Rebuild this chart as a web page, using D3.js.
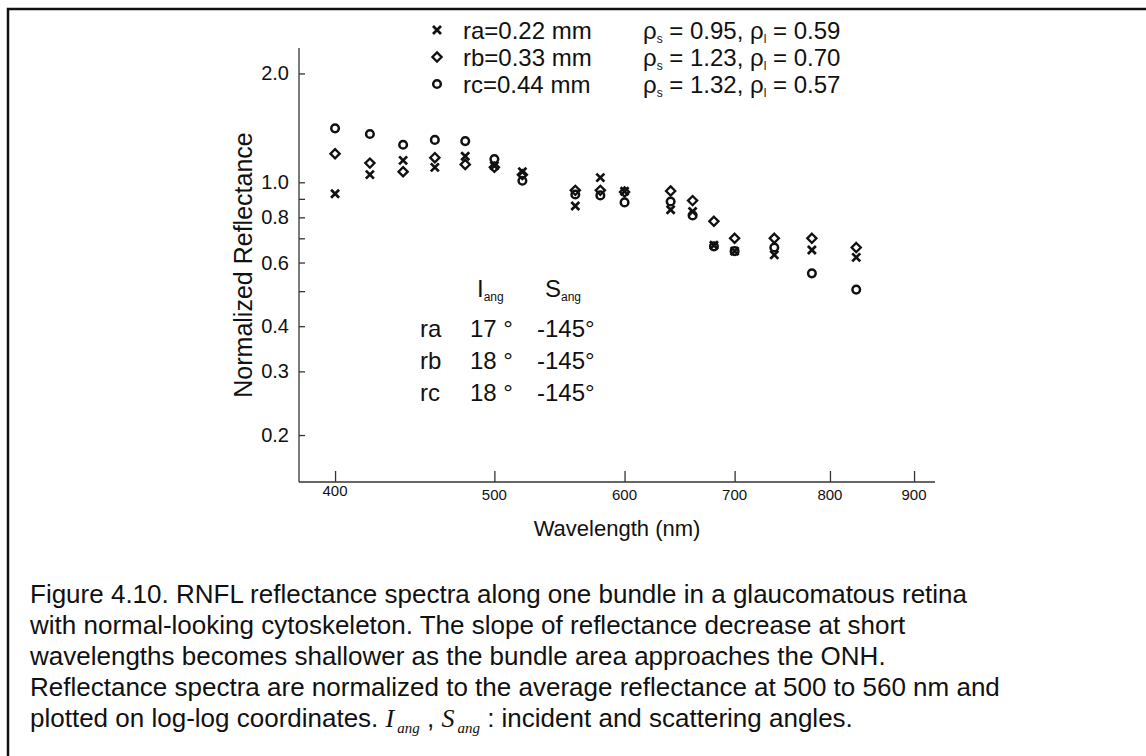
<!DOCTYPE html>
<html>
<head>
<meta charset="utf-8">
<script src="https://cdn.jsdelivr.net/npm/d3@7/dist/d3.min.js"></script>
<style>
  body { margin: 0; background: #fff; }
  svg { display: block; }
  text { fill: #111; font-family: "Liberation Sans", Arial, sans-serif; }
  .narrow { font-family: "Liberation Sans Narrow", "Arial Narrow", "Liberation Sans", sans-serif; }
</style>
</head>
<body>
<svg id="main_svg" width="1146" height="756"></svg>
<script>
// wavelengths (nm)
const wavelengths = [400, 420, 440, 460, 480, 500, 520, 560, 580, 600, 640, 660, 680, 700, 740, 780, 830];
// normalized reflectance per bundle area
const ra = [0.93, 1.05, 1.15, 1.10, 1.18, 1.11, 1.07, 0.86, 1.03, 0.945, 0.84, 0.83, 0.67, 0.645, 0.63, 0.65, 0.62];
const rb = [1.20, 1.13, 1.07, 1.17, 1.12, 1.10, 1.05, 0.95, 0.95, 0.94, 0.946, 0.89, 0.78, 0.70, 0.70, 0.70, 0.66];
const rc = [1.41, 1.36, 1.27, 1.31, 1.30, 1.16, 1.01, 0.925, 0.92, 0.88, 0.885, 0.81, 0.665, 0.645, 0.66, 0.56, 0.505];

const xTicks = [400, 500, 600, 700, 800, 900];
const yTicks = [0.2, 0.3, 0.4, 0.6, 0.8, 1.0, 2.0];
const yMinor = [0.5, 0.7, 0.9];

const legendNames = ['ra=0.22 mm', 'rb=0.33 mm', 'rc=0.44 mm'];
const rhoS = ['0.95', '1.23', '1.32'];
const rhoL = ['0.59', '0.70', '0.57'];
const angNames = ['ra', 'rb', 'rc'];
const incAngles = ['17 °', '18 °', '18 °'];
const scatAngles = ['-145°', '-145°', '-145°'];

const captionLines = [
  'Figure 4.10. RNFL reflectance spectra along one bundle in a glaucomatous retina',
  'with normal-looking cytoskeleton. The slope of reflectance decrease at short',
  'wavelengths becomes shallower as the bundle area approaches the ONH.',
  'Reflectance spectra are normalized to the average reflectance at 500 to 560 nm and'
];

const svg = d3.select('#main_svg');

// frame (left and top rule)
svg.append('path')
  .attr('d', 'M8,756 L8,9 L1146,9')
  .attr('fill', 'none')
  .attr('stroke', '#111')
  .attr('stroke-width', 2.5);

const plot = { left: 299, right: 935, top: 48, bottom: 482 };

const x = d3.scaleLog()
  .domain([380.3, 926.8])
  .range([plot.left, plot.right]);

const y = d3.scaleLog()
  .domain([0.1483, 2.352])
  .range([plot.bottom, plot.top]);

// y axis
const yAxis = svg.append('g')
  .attr('transform', 'translate(' + plot.left + ',0)')
  .call(d3.axisRight(y).tickValues(yTicks).tickSize(6).tickFormat(''));
yAxis.select('.domain').attr('d', 'M0,' + plot.top + 'V' + plot.bottom);
yAxis.selectAll('line, path').attr('stroke', '#333').attr('stroke-width', 1.3);

svg.append('g')
  .attr('transform', 'translate(' + plot.left + ',0)')
  .call(d3.axisRight(y).tickValues(yMinor).tickSize(6).tickFormat(''))
  .call(g => g.select('.domain').remove())
  .selectAll('line').attr('stroke', '#333').attr('stroke-width', 1.3);

svg.append('g').selectAll('text')
  .data(yTicks)
  .join('text')
  .attr('class', 'narrow')
  .attr('x', plot.left - 10)
  .attr('y', d => y(d))
  .attr('dy', '0.35em')
  .attr('text-anchor', 'end')
  .style('font-size', '20px')
  .text(d => d.toFixed(1));

// x axis
const xAxis = svg.append('g')
  .attr('transform', 'translate(0,' + plot.bottom + ')')
  .call(d3.axisTop(x).tickValues(xTicks).tickSize(11).tickFormat(''));
xAxis.select('.domain').attr('d', 'M' + plot.left + ',0H' + plot.right);
xAxis.selectAll('line, path').attr('stroke', '#333').attr('stroke-width', 1.3);

svg.append('g').selectAll('text')
  .data(xTicks)
  .join('text')
  .attr('class', 'narrow')
  .attr('x', d => x(d))
  .attr('y', d => plot.bottom + (d === 400 ? 14 : 18))
  .attr('text-anchor', 'middle')
  .style('font-size', '15px')
  .text(d => d);

// axis titles
svg.append('text')
  .attr('transform', 'translate(252,265) rotate(-90)')
  .attr('text-anchor', 'middle')
  .style('font-size', '25px')
  .text('Normalized Reflectance');

svg.append('text')
  .attr('x', (plot.left + plot.right) / 2)
  .attr('y', 536)
  .attr('text-anchor', 'middle')
  .style('font-size', '22px')
  .text('Wavelength (nm)');

// markers
function drawCross(g, cx, cy) {
  const s = 4;
  g.append('path')
    .attr('d', 'M' + (cx - s) + ',' + (cy - s) + 'L' + (cx + s) + ',' + (cy + s) +
               'M' + (cx - s) + ',' + (cy + s) + 'L' + (cx + s) + ',' + (cy - s))
    .attr('stroke', '#111').attr('stroke-width', 2.7).attr('fill', 'none');
}
function drawDiamond(g, cx, cy) {
  const s = 4.6;
  g.append('path')
    .attr('d', 'M' + cx + ',' + (cy - s) + 'L' + (cx + s) + ',' + cy + 'L' + cx + ',' + (cy + s) +
               'L' + (cx - s) + ',' + cy + 'Z')
    .attr('stroke', '#111').attr('stroke-width', 2.3).attr('fill', 'none');
}
function drawCircle(g, cx, cy) {
  g.append('circle')
    .attr('cx', cx).attr('cy', cy).attr('r', 3.8)
    .attr('stroke', '#111').attr('stroke-width', 2.5).attr('fill', 'none');
}

const series = [
  { values: ra, draw: drawCross },
  { values: rb, draw: drawDiamond },
  { values: rc, draw: drawCircle }
];

const marks = svg.append('g');
series.forEach(s => {
  s.values.forEach((v, i) => s.draw(marks, x(wavelengths[i]), y(v)));
});

// legend
const legend = svg.append('g');
series.forEach((s, i) => {
  const cy = 30 + i * 27;
  s.draw(legend, 437, cy);
  legend.append('text')
    .attr('x', 463).attr('y', cy + 9)
    .style('font-size', '24px')
    .text(legendNames[i]);
  const t = legend.append('text')
    .attr('x', 643).attr('y', cy + 9)
    .style('font-size', '24px');
  t.append('tspan').text('ρ');
  t.append('tspan').attr('dy', 4).style('font-size', '12px').text('s');
  t.append('tspan').attr('dy', -4).text(' = ' + rhoS[i] + ', ρ');
  t.append('tspan').attr('dy', 4).style('font-size', '12px').text('l');
  t.append('tspan').attr('dy', -4).text(' = ' + rhoL[i]);
});

// angle table
const table = svg.append('g');
const hdrI = table.append('text').attr('x', 477).attr('y', 297).style('font-size', '24px');
hdrI.append('tspan').text('I');
hdrI.append('tspan').attr('dy', 4).style('font-size', '12px').text('ang');
const hdrS = table.append('text').attr('x', 545).attr('y', 297).style('font-size', '24px');
hdrS.append('tspan').text('S');
hdrS.append('tspan').attr('dy', 4).style('font-size', '12px').text('ang');

angNames.forEach((n, i) => {
  const by = 337 + i * 32;
  table.append('text').attr('x', 420).attr('y', by).style('font-size', '24px').text(n);
  table.append('text').attr('x', 470).attr('y', by).style('font-size', '24px').text(incAngles[i]);
  table.append('text').attr('x', 537).attr('y', by).style('font-size', '24px').text(scatAngles[i]);
});

// caption
const capY = 603, capStep = 31;
const cap = svg.append('g');
captionLines.forEach((line, i) => {
  cap.append('text')
    .attr('x', 30).attr('y', capY + i * capStep)
    .style('font-size', '26px')
    .text(line);
});
const serif = '"Liberation Serif", "Times New Roman", serif';
const last = cap.append('text')
  .attr('x', 30).attr('y', capY + 4 * capStep)
  .style('font-size', '26px');
last.append('tspan').text('plotted on log-log coordinates. ');
last.append('tspan').style('font-family', serif).style('font-style', 'italic').text('I');
last.append('tspan').attr('dx', 3).attr('dy', 6).style('font-family', serif).style('font-style', 'italic').style('font-size', '15px').text('ang');
last.append('tspan').attr('dy', -6).text(' , ');
last.append('tspan').style('font-family', serif).style('font-style', 'italic').text('S');
last.append('tspan').attr('dx', 3).attr('dy', 6).style('font-family', serif).style('font-style', 'italic').style('font-size', '15px').text('ang');
last.append('tspan').attr('dy', -6).text(' : incident and scattering angles.');
</script>
</body>
</html>
